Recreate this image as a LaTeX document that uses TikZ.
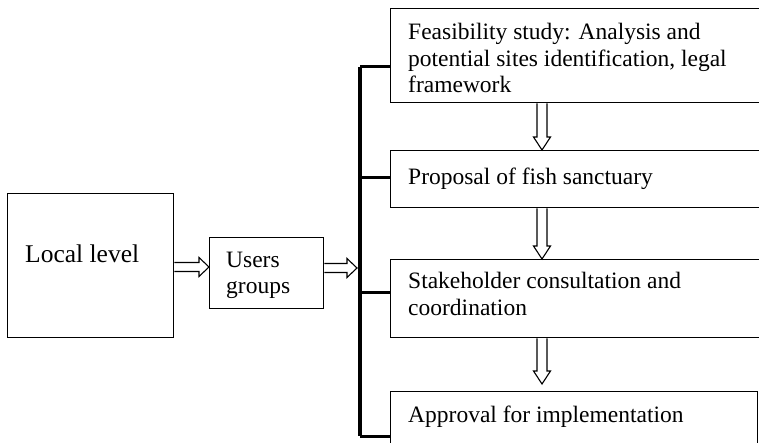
\documentclass[tikz,border=0pt]{standalone}
\usepackage{fontspec}
\setmainfont{Liberation Serif}
\usetikzlibrary{calc}
\tikzset{
  box/.style={draw=black, line width=1.3pt, fill=white, rectangle, inner sep=0pt, anchor=north west},
  txt/.style={anchor=base west, inner sep=0pt, align=left, font=\fontsize{23.5}{26.5}\selectfont},
  hol/.style={draw=black, fill=white, line width=1.1pt, line join=miter},
  brv/.style={line width=4.5pt, line cap=butt, line join=miter},
  brh/.style={line width=3pt, line cap=butt}
}
\newcommand{\hollowH}[2]{\draw[hol] let \p1=#1, \p2=#2 in
  (\x1,\y1+4.5pt) -- (\x2-10pt,\y1+4.5pt) -- (\x2-10pt,\y1+9.5pt) -- (\x2,\y1)
  -- (\x2-10pt,\y1-9.5pt) -- (\x2-10pt,\y1-4.5pt) -- (\x1,\y1-4.5pt);}
\newcommand{\hollowV}[2]{\draw[hol] let \p1=#1, \p2=#2 in
  (\x1+5pt,\y1) -- (\x1+5pt,\y2+13pt) -- (\x1+8.5pt,\y2+13pt) -- (\x1,\y2)
  -- (\x1-8.5pt,\y2+13pt) -- (\x1-5pt,\y2+13pt) -- (\x1-5pt,\y1);}
\begin{document}
\begin{tikzpicture}[x=1pt,y=-1pt]
\useasboundingbox (0,0) rectangle (759,443);
\clip (0,0) rectangle (759,443);
% boxes
\node[box, minimum width=166pt, minimum height=144pt] (lv) at (7,193) {};
\node[box, minimum width=114pt, minimum height=71pt] (ug) at (209,237) {};
\node[box, minimum width=400pt, minimum height=94pt] (fs) at (390,8) {};
\node[box, minimum width=400pt, minimum height=57pt] (pr) at (390,150) {};
\node[box, minimum width=400pt, minimum height=78pt] (sc) at (390,259) {};
\node[box, minimum width=367pt, minimum height=80pt] (ap) at (390,391) {};
% texts (base = last line's baseline)
\node[txt, font=\fontsize{25.5}{28}\selectfont] (tlv) at (25,262) {Local level};
\node[txt, font=\fontsize{23.5}{25}\selectfont] (tug) at (226,293) {Users\\groups};
\node[txt] (tfs) at (408,93) {Feasibility study: Analysis and\\potential sites identification, legal\\framework};
\node[txt] (tpr) at (408,185) {Proposal of fish sanctuary};
\node[txt, font=\fontsize{23.5}{27}\selectfont] (tsc) at (408,315) {Stakeholder consultation and\\coordination};
\node[txt] (tap) at (408,422) {Approval for implementation};
% bracket
\coordinate (btop) at (360,67);
\coordinate (bbot) at (360,436);
\draw[brv] (btop) -- (bbot);
\draw[brh] (btop) -- (fs.west |- btop);
\draw[brh] (360,178) -- (pr.west |- 0,178);
\draw[brh] (360,292) -- (sc.west |- 0,292);
\draw[brh] (bbot) -- (ap.west |- bbot);
% hollow arrows
\hollowH{(lv.east |- 0,267)}{(ug.west |- 0,267)}
\hollowH{(ug.east |- 0,268)}{(357,268)}
\hollowV{(542,0 |- fs.south)}{(542,0 |- pr.north)}
\hollowV{(542,0 |- pr.south)}{(542,0 |- sc.north)}
\hollowV{(542,0 |- sc.south)}{(542,384)}
\end{tikzpicture}
\end{document}
